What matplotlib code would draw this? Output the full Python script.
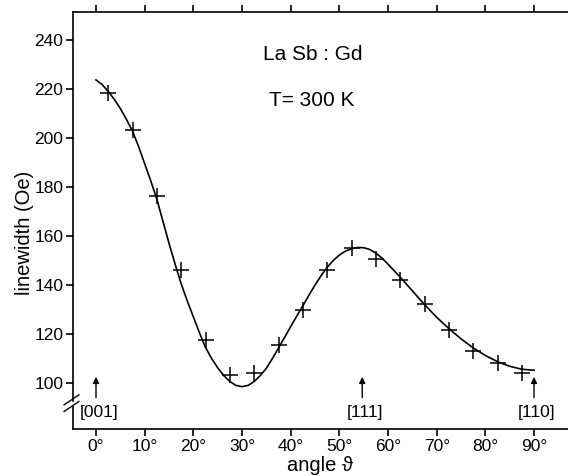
import numpy as np
import matplotlib
matplotlib.use('Agg')
import matplotlib.pyplot as plt

plt.rcParams['font.family'] = ['Liberation Sans', 'DejaVu Sans']

# measured points (angle in deg, linewidth in Oe)
angle_pts = [2.5, 7.5, 12.5, 17.5, 22.5, 27.5, 32.5, 37.5, 42.5,
             47.5, 52.5, 57.5, 62.5, 67.5, 72.5, 77.5, 82.5, 87.5]
width_pts = [218.4, 203.3, 176.5, 146.1, 117.6, 103.1, 104.1, 115.5, 129.8,
             146.1, 155.0, 150.5, 142.2, 132.3, 121.6, 112.9, 108.2, 104.1]

# fitted curve
angle_fit = [0, 1.25, 2.5, 3.75, 5, 6.25, 7.5, 8.75, 10, 11.25, 12.5, 13.75, 15,
             16.25, 17.5, 18.75, 20, 21.25, 22.5, 23.75, 25, 26.25, 27.5, 28.75,
             30, 31.25, 32.5, 33.75, 35, 36.25, 37.5, 38.75, 40, 41.25, 42.5,
             43.75, 45, 46.25, 47.5, 48.75, 50, 51.25, 52.5, 53.75, 55, 56.25,
             57.5, 58.75, 60, 62.5, 65, 67.5, 70, 72.5, 75, 77.5, 80, 82.5,
             85, 87.5, 90]
width_fit = [223.7, 221.8, 219.0, 215.8, 212.0, 207.6, 202.8, 196.5, 189.5,
             182.5, 175.0, 166.0, 157.0, 148.5, 140.5, 133.5, 127.0, 120.5,
             114.5, 110.0, 106.2, 103.0, 100.6, 99.0, 98.5, 99.0, 100.6, 103.0,
             106.0, 110.0, 114.3, 118.6, 123.0, 127.3, 131.5, 135.8, 140.0,
             143.8, 147.2, 150.0, 152.2, 153.8, 154.8, 155.3, 155.2, 154.5,
             153.0, 151.0, 148.5, 143.2, 137.6, 132.0, 126.8, 122.2, 118.0,
             114.3, 111.2, 108.7, 106.8, 105.6, 105.2]

xticks = [0, 10, 20, 30, 40, 50, 60, 70, 80, 90]
yticks = [100, 120, 140, 160, 180, 200, 220, 240]
directions = ['[001]', '[111]', '[110]']
dir_angles = [0, 54.7, 90]

fig = plt.figure(figsize=(5.68, 4.76), dpi=100)
ax = fig.add_axes([0.1285, 0.0987, 0.8715, 0.876])

ax.plot(angle_fit, width_fit, color='black', lw=1.2)
ax.plot(angle_pts, width_pts, linestyle='none', marker='+', color='black',
        ms=11, mew=1.1)

ax.set_xlim(-4.73, 96.98)
ax.set_ylim(81.2, 251.4)

ax.spines['right'].set_visible(False)
ax.spines['left'].set_visible(False)
for s in ['top', 'bottom']:
    ax.spines[s].set_linewidth(1.2)

# left spine with a break
ybrk_lo, ybrk_hi = 0.052, 0.068
ax.plot([0, 0], [ybrk_hi, 1], transform=ax.transAxes, color='black',
        lw=1.2, clip_on=False)
ax.plot([0, 0], [0, ybrk_lo], transform=ax.transAxes, color='black',
        lw=1.2, clip_on=False)
for off in [0, 0.016]:
    ax.plot([-0.018, 0.012], [0.042 + off, 0.066 + off], transform=ax.transAxes,
            color='black', lw=1.0, clip_on=False)

ax.set_xticks(xticks)
ax.set_xticklabels(['%d°' % t for t in xticks])
ax.set_yticks(yticks)
ax.tick_params(axis='both', direction='out', length=5, width=1.2,
               labelsize=12.5, pad=2)
ax.tick_params(axis='x', top=True)

ax.set_xlabel('angle ϑ', fontsize=14.5, labelpad=1.5)
ax.set_ylabel('linewidth (Oe)', fontsize=14.5)
ax.yaxis.set_label_coords(-0.078, 0.47)

ax.text(44.6, 233.9, 'La Sb : Gd', fontsize=15, ha='center', va='center')
ax.text(44.4, 215.1, 'T= 300 K', fontsize=15, ha='center', va='center')

for name, a in zip(directions, dir_angles):
    ax.annotate('', xy=(a, 102.5), xytext=(a, 94.0),
                arrowprops=dict(arrowstyle='-|>', color='black', lw=1.0,
                                mutation_scale=9, shrinkA=0, shrinkB=0))
    ax.text(a + 0.6, 87.8, name, fontsize=12.5, ha='center', va='center')

fig.savefig('out.png', dpi=100)
